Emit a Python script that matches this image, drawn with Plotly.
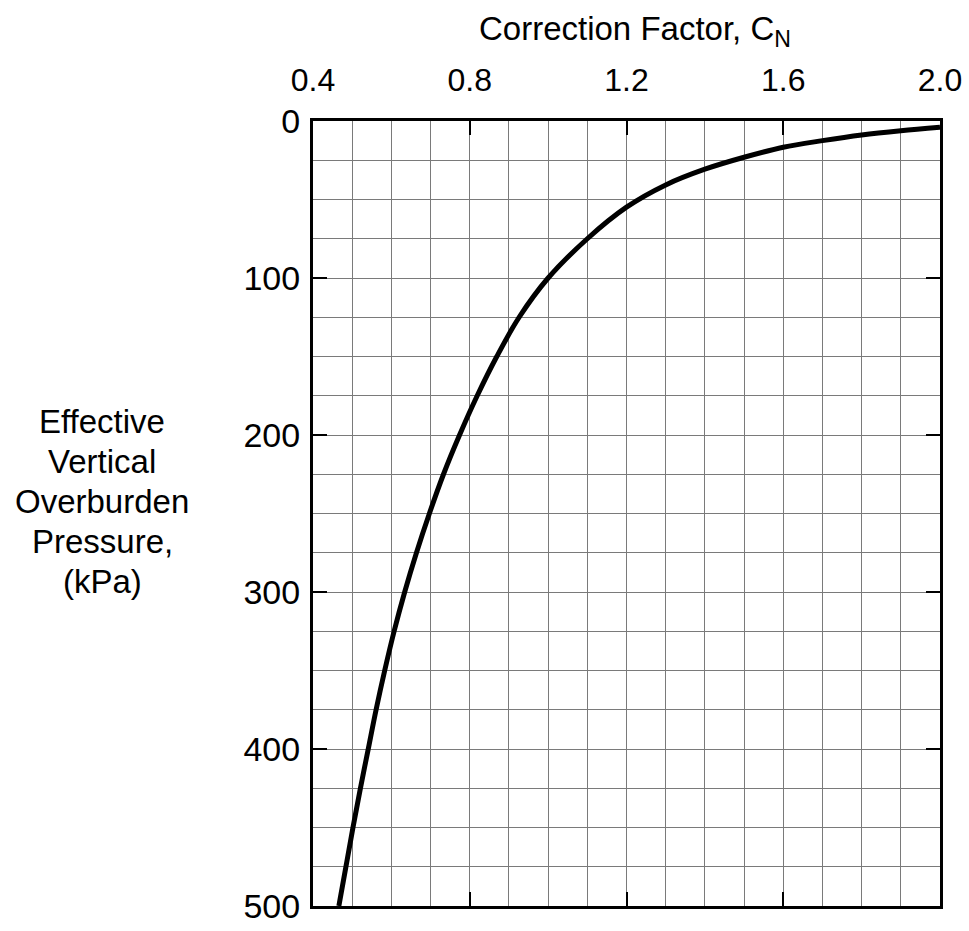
import plotly.graph_objects as go

# Effective vertical overburden pressure (kPa) and correction factor C_N
pressure_kpa = [4, 6.2, 8.9, 12.5, 16.7, 23.1, 30.7, 40.7, 54.9, 75, 100, 125, 150, 175,
                200, 225, 250, 275, 300, 325, 350, 375, 400, 425, 450, 475, 500]
cn_values = [2.0, 1.9, 1.8, 1.7, 1.6, 1.5, 1.4, 1.3, 1.2, 1.1, 1.0, 0.926, 0.869, 0.819,
             0.774, 0.733, 0.697, 0.664, 0.634, 0.607, 0.583, 0.561, 0.541, 0.521, 0.502, 0.484, 0.466]

x_ticks = [0.4, 0.8, 1.2, 1.6, 2.0]
x_tick_labels = ["0.4", "0.8", "1.2", "1.6", "2.0"]
y_ticks = [0, 100, 200, 300, 400, 500]
y_tick_labels = ["0", "100", "200", "300", "400", "500"]
x_title = "Correction Factor, C<sub>N</sub>"
y_title_lines = ["Effective", "Vertical", "Overburden", "Pressure,", "(kPa)"]

FONT = "Liberation Sans, Arial, Helvetica, sans-serif"
L, R, T, B = 313, 29, 121, 25
W, H = 969, 931
PW, PH = W - L - R, H - T - B


def px_x(px):
    return (px - L) / PW


def px_y(py):
    return 1 - (py - T) / PH


fig = go.Figure()
fig.add_trace(go.Scatter(
    x=cn_values, y=pressure_kpa, mode="lines",
    line=dict(color="black", width=5, shape="spline", smoothing=1.0),
    showlegend=False, hoverinfo="skip", cliponaxis=True,
))

annotations = [
    dict(text=x_title, xref="paper", yref="paper",
         x=px_x(635), y=px_y(31), xanchor="center", yanchor="middle",
         showarrow=False, font=dict(size=33)),
]
for i, line in enumerate(y_title_lines):
    annotations.append(dict(
        text=line, xref="paper", yref="paper",
        x=px_x(102), y=px_y(421 + 40 * i), xanchor="center", yanchor="middle",
        showarrow=False, font=dict(size=33)))

fig.update_layout(
    width=W, height=H,
    margin=dict(l=L, r=R, t=T, b=B, autoexpand=False),
    paper_bgcolor="white", plot_bgcolor="white",
    font=dict(family=FONT, color="black", size=33),
    xaxis=dict(
        side="top", range=[0.4, 2.0], automargin=False,
        tickmode="array", tickvals=x_ticks, ticktext=x_tick_labels,
        ticks="inside", ticklen=14, tickwidth=2, tickcolor="black",
        ticklabelstandoff=14,
        showline=True, linecolor="black", linewidth=3, mirror="ticks",
        showgrid=True, gridcolor="#7a7a7a", gridwidth=1,
        minor=dict(dtick=0.1, showgrid=True, gridcolor="#7a7a7a", gridwidth=1, ticks=""),
        zeroline=False, tickfont=dict(size=32),
    ),
    yaxis=dict(
        range=[500, 0], automargin=False,
        tickmode="array", tickvals=y_ticks, ticktext=y_tick_labels,
        ticks="inside", ticklen=14, tickwidth=2, tickcolor="black",
        ticklabelstandoff=3,
        showline=True, linecolor="black", linewidth=3, mirror="ticks",
        showgrid=True, gridcolor="#7a7a7a", gridwidth=1,
        minor=dict(dtick=25, showgrid=True, gridcolor="#7a7a7a", gridwidth=1, ticks=""),
        zeroline=False, tickfont=dict(size=34),
    ),
    annotations=annotations,
)

fig.write_html("out.html")
